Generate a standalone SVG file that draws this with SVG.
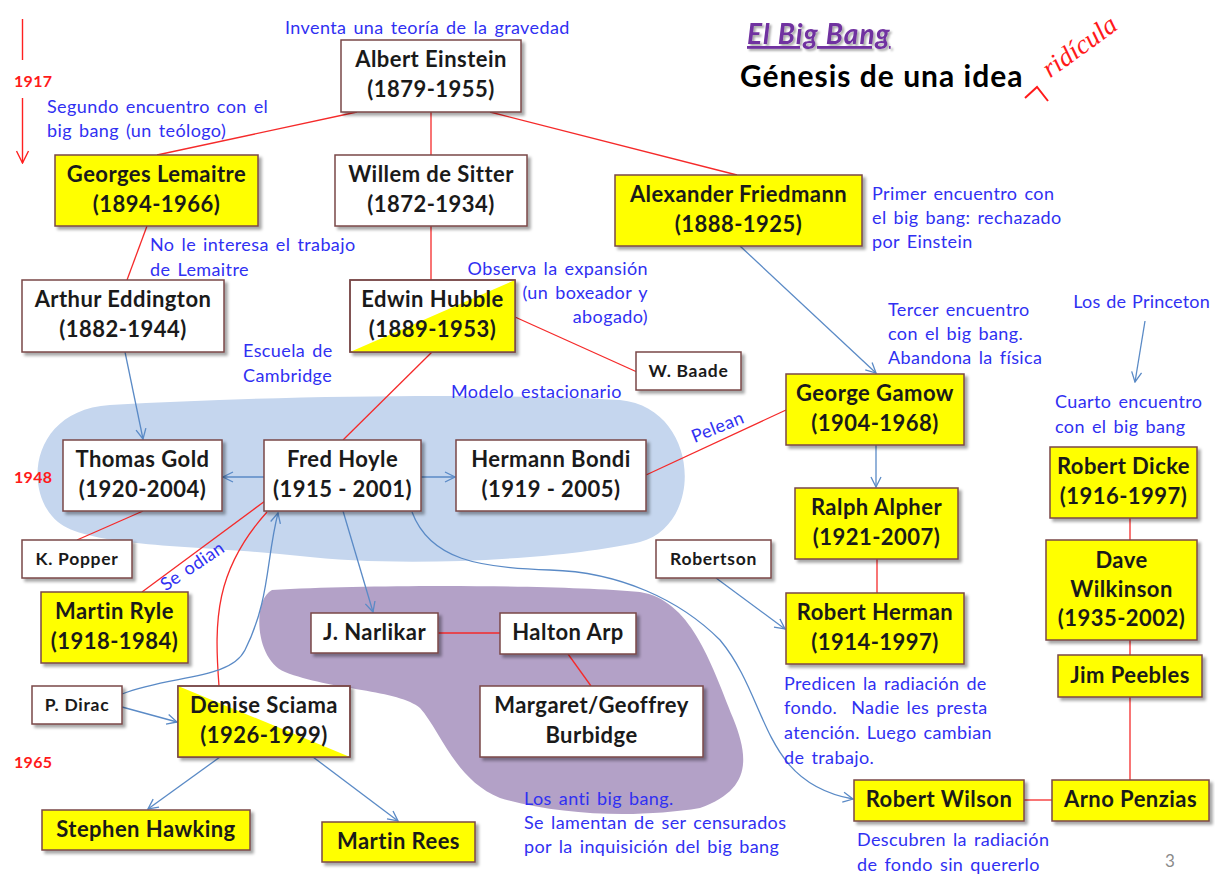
<svg xmlns="http://www.w3.org/2000/svg" width="1215" height="876" viewBox="0 0 1215 876">
<defs>
<filter id="sh" x="-10%" y="-10%" width="130%" height="140%">
<feDropShadow dx="3" dy="3" stdDeviation="1.8" flood-color="#000" flood-opacity="0.35"/>
</filter>
<filter id="tsh" x="-5%" y="-20%" width="115%" height="150%">
<feDropShadow dx="2" dy="2" stdDeviation="1.2" flood-color="#000" flood-opacity="0.35"/>
</filter>
<marker id="ab" viewBox="0 0 12 12" refX="11" refY="6" markerWidth="12" markerHeight="12" markerUnits="userSpaceOnUse" orient="auto">
<path d="M1,1 L11,6 L1,11" fill="none" stroke="#5a8ac6" stroke-width="1.3"/>
</marker>
<marker id="ar" viewBox="0 0 14 14" refX="13" refY="7" markerWidth="14" markerHeight="14" markerUnits="userSpaceOnUse" orient="auto">
<path d="M1,1 L13,7 L1,13" fill="none" stroke="#ff2020" stroke-width="1.4"/>
</marker>
</defs>
<style>
.box{stroke:#7a4848;stroke-width:1.5;filter:url(#sh)}
.w{fill:#fff}
.y{fill:#ffff00}
.n{font-family:Lato,"Liberation Sans",sans-serif;font-weight:bold;font-size:22px;letter-spacing:0.45px;fill:#1a1a1a;text-anchor:middle}
.s{font-family:Lato,"Liberation Sans",sans-serif;font-weight:bold;font-size:17.5px;letter-spacing:0.7px;fill:#1a1a1a;text-anchor:middle}
.a{font-family:Lato,"Liberation Sans",sans-serif;font-size:18px;letter-spacing:0.4px;word-spacing:2px;fill:#3030f2}
.yr{font-family:Lato,"Liberation Sans",sans-serif;font-weight:bold;font-size:16px;letter-spacing:0.3px;fill:#ff1a1a}
.rl{stroke:#f52a2a;stroke-width:1.3;fill:none}
.bl{stroke:#5a8ac6;stroke-width:1.3;fill:none;marker-end:url(#ab)}
</style>
<rect width="1215" height="876" fill="#fff"/>

<g id="blobs">
<path d="M110,405 C300,394 520,394 620,400 C700,408 705,525 640,542 C560,560 400,568 300,556 C200,545 90,548 58,522 C22,492 30,410 110,405 Z" fill="#c5d6ee"/>
<path d="M272,590 C380,584 560,585 640,592 C690,600 710,660 733,718 C750,760 750,790 700,808 C640,818 560,816 500,798 C455,780 440,730 420,708 C400,690 330,690 285,672 C255,660 252,600 272,590 Z" fill="#b3a1c7"/>
</g>

<g id="title">
<text x="747" y="44" font-family="Lato,'Liberation Sans',sans-serif" font-weight="bold" font-style="italic" font-size="28" letter-spacing="1" fill="#7030a0" text-decoration="underline" filter="url(#tsh)">El Big Bang</text>
<text x="740" y="87" font-family="Lato,'Liberation Sans',sans-serif" font-weight="bold" font-size="30" letter-spacing="1" fill="#000">Génesis de una idea</text>
<text x="1080" y="55" font-family="'Liberation Serif',serif" font-style="italic" font-size="27" fill="#ff1a1a" text-anchor="middle" transform="rotate(-36 1080 47)">ridícula</text>
<path d="M1025,98 L1037,87 L1048,101" fill="none" stroke="#ff1a1a" stroke-width="2"/>
</g>

<g id="timeline">
<line x1="22.5" y1="19" x2="22.5" y2="60" stroke="#ff2020" stroke-width="1.4"/>
<line x1="22.5" y1="98" x2="22.5" y2="163" stroke="#ff2020" stroke-width="1.4" marker-end="url(#ar)"/>
<text class="yr" x="14" y="87">1917</text>
<text class="yr" x="14" y="483">1948</text>
<text class="yr" x="14" y="768">1965</text>
</g>

<g id="connectors">
<line class="rl" x1="357" y1="112" x2="157" y2="155"/>
<line class="rl" x1="431" y1="112" x2="431" y2="155"/>
<line class="rl" x1="490" y1="112" x2="737" y2="175"/>
<line class="rl" x1="147" y1="226" x2="127" y2="280"/>
<line class="rl" x1="431" y1="226" x2="431" y2="280"/>
<line class="rl" x1="515" y1="317" x2="637" y2="372"/>
<line class="rl" x1="432" y1="352" x2="343" y2="440"/>
<line class="rl" x1="646" y1="475" x2="786" y2="410"/>
<line class="rl" x1="143" y1="511" x2="77" y2="540"/>
<line class="rl" x1="265" y1="501" x2="142" y2="592"/>
<path class="rl" d="M267,512 C215,570 214,620 219,686"/>
<line class="rl" x1="438" y1="633" x2="500" y2="633"/>
<line class="rl" x1="568" y1="654" x2="591" y2="686"/>
<line class="rl" x1="877" y1="559" x2="877" y2="593"/>
<line class="rl" x1="1130" y1="518" x2="1130" y2="540"/>
<line class="rl" x1="1130" y1="640" x2="1130" y2="655"/>
<line class="rl" x1="1130" y1="697" x2="1130" y2="780"/>
<line class="rl" x1="1024" y1="800" x2="1052" y2="800"/>

<line class="bl" x1="125" y1="352" x2="143" y2="439"/>
<line class="bl" x1="264" y1="477" x2="223" y2="477"/>
<line class="bl" x1="421" y1="477" x2="455" y2="477"/>
<line class="bl" x1="343" y1="511" x2="373" y2="612"/>
<path class="bl" d="M412,512 C430,560 480,568 550,570 C620,572 680,600 720,640 C770,700 760,782 853,799"/>
<path class="bl" d="M122,694 C170,675 230,680 245,650 C270,600 266,560 278,513"/>
<line class="bl" x1="122" y1="707" x2="177" y2="722"/>
<line class="bl" x1="220" y1="757" x2="148" y2="809"/>
<line class="bl" x1="313" y1="757" x2="398" y2="821"/>
<line class="bl" x1="740" y1="246" x2="876" y2="373"/>
<line class="bl" x1="876" y1="445" x2="876" y2="487"/>
<line class="bl" x1="716" y1="578" x2="785" y2="629"/>
<line class="bl" x1="1145" y1="321" x2="1135" y2="382"/>
</g>

<g id="einstein"><rect class="box w" x="341" y="40" width="180" height="72"/><text class="n" x="431" y="67">Albert Einstein</text><text class="n" x="431" y="97">(1879-1955)</text></g>
<g id="lemaitre"><rect class="box y" x="55" y="155" width="203" height="71"/><text class="n" x="156.5" y="182">Georges Lemaitre</text><text class="n" x="156.5" y="212">(1894-1966)</text></g>
<g id="desitter"><rect class="box w" x="335" y="155" width="192" height="71"/><text class="n" x="431" y="182">Willem de Sitter</text><text class="n" x="431" y="212">(1872-1934)</text></g>
<g id="friedmann"><rect class="box y" x="615" y="175" width="247" height="71"/><text class="n" x="738.5" y="202">Alexander Friedmann</text><text class="n" x="738.5" y="232">(1888-1925)</text></g>
<g id="eddington"><rect class="box w" x="22" y="280" width="202" height="72"/><text class="n" x="123" y="307">Arthur Eddington</text><text class="n" x="123" y="337">(1882-1944)</text></g>
<g id="hubble"><rect class="box w" x="350" y="280" width="165" height="72"/><polygon points="350,352 515,280 515,352" fill="#ffff00"/><rect x="350" y="280" width="165" height="72" fill="none" stroke="#7a4848" stroke-width="1.5"/><text class="n" x="432.5" y="307">Edwin Hubble</text><text class="n" x="432.5" y="337">(1889-1953)</text></g>
<g id="baade"><rect class="box w" x="636" y="352" width="105" height="38"/><text class="s" x="688.5" y="377">W. Baade</text></g>
<g id="gamow"><rect class="box y" x="786" y="374" width="178" height="71"/><text class="n" x="875" y="401">George Gamow</text><text class="n" x="875" y="431">(1904-1968)</text></g>
<g id="gold"><rect class="box w" x="63" y="440" width="159" height="71"/><text class="n" x="142.5" y="467">Thomas Gold</text><text class="n" x="142.5" y="497">(1920-2004)</text></g>
<g id="hoyle"><rect class="box w" x="264" y="440" width="157" height="71"/><text class="n" x="342.5" y="467">Fred Hoyle</text><text class="n" x="342.5" y="497">(1915 - 2001)</text></g>
<g id="bondi"><rect class="box w" x="456" y="440" width="190" height="71"/><text class="n" x="551" y="467">Hermann Bondi</text><text class="n" x="551" y="497">(1919 - 2005)</text></g>
<g id="popper"><rect class="box w" x="22" y="540" width="110" height="38"/><text class="s" x="77" y="565">K. Popper</text></g>
<g id="ryle"><rect class="box y" x="41" y="592" width="147" height="71"/><text class="n" x="114.5" y="619">Martin Ryle</text><text class="n" x="114.5" y="649">(1918-1984)</text></g>
<g id="robertson"><rect class="box w" x="656" y="540" width="115" height="38"/><text class="s" x="713.5" y="565">Robertson</text></g>
<g id="alpher"><rect class="box y" x="795" y="488" width="163" height="71"/><text class="n" x="876.5" y="515">Ralph Alpher</text><text class="n" x="876.5" y="545">(1921-2007)</text></g>
<g id="herman"><rect class="box y" x="786" y="593" width="178" height="71"/><text class="n" x="875" y="620">Robert Herman</text><text class="n" x="875" y="650">(1914-1997)</text></g>
<g id="dicke"><rect class="box y" x="1050" y="447" width="147" height="71"/><text class="n" x="1123.5" y="474">Robert Dicke</text><text class="n" x="1123.5" y="504">(1916-1997)</text></g>
<g id="wilkinson"><rect class="box y" x="1046" y="540" width="151" height="100"/><text class="n" x="1121.5" y="568">Dave</text><text class="n" x="1121.5" y="597">Wilkinson</text><text class="n" x="1121.5" y="626">(1935-2002)</text></g>
<g id="peebles"><rect class="box y" x="1058" y="655" width="144" height="42"/><text class="n" x="1130" y="683">Jim Peebles</text></g>
<g id="narlikar"><rect class="box w" x="311" y="613" width="127" height="40"/><text class="n" x="374.5" y="640">J. Narlikar</text></g>
<g id="arp"><rect class="box w" x="500" y="613" width="136" height="41"/><text class="n" x="568" y="640">Halton Arp</text></g>
<g id="burbidge"><rect class="box w" x="480" y="686" width="223" height="71"/><text class="n" x="591.5" y="713">Margaret/Geoffrey</text><text class="n" x="591.5" y="743">Burbidge</text></g>
<g id="dirac"><rect class="box w" x="32" y="686" width="90" height="38"/><text class="s" x="77" y="711">P. Dirac</text></g>
<g id="sciama"><rect class="box w" x="178" y="686" width="172" height="71"/><polygon points="178,686 350,757 178,757" fill="#ffff00"/><rect x="178" y="686" width="172" height="71" fill="none" stroke="#7a4848" stroke-width="1.5"/><text class="n" x="264" y="713">Denise Sciama</text><text class="n" x="264" y="743">(1926-1999)</text></g>
<g id="hawking"><rect class="box y" x="42" y="810" width="208" height="40"/><text class="n" x="146" y="837">Stephen Hawking</text></g>
<g id="rees"><rect class="box y" x="322" y="822" width="153" height="40"/><text class="n" x="398.5" y="849">Martin Rees</text></g>
<g id="wilson"><rect class="box y" x="854" y="780" width="170" height="41"/><text class="n" x="939" y="807">Robert Wilson</text></g>
<g id="penzias"><rect class="box y" x="1052" y="780" width="157" height="41"/><text class="n" x="1130.5" y="807">Arno Penzias</text></g>

<g id="annotations">
<text class="a" x="285" y="34">Inventa una teoría de la gravedad</text>
<text class="a" x="47" y="113">Segundo encuentro con el</text>
<text class="a" x="47" y="137">big bang (un teólogo)</text>
<text class="a" x="150" y="251">No le interesa el trabajo</text>
<text class="a" x="150" y="276">de Lemaitre</text>
<text class="a" x="648" y="275" text-anchor="end">Observa la expansión</text>
<text class="a" x="648" y="299" text-anchor="end">(un boxeador y</text>
<text class="a" x="648" y="323" text-anchor="end">abogado)</text>
<text class="a" x="243" y="357">Escuela de</text>
<text class="a" x="243" y="382">Cambridge</text>
<text class="a" x="451" y="398">Modelo estacionario</text>
<text class="a" x="718" y="433" text-anchor="middle" transform="rotate(-22 718 428)">Pelean</text>
<text class="a" x="872" y="200">Primer encuentro con</text>
<text class="a" x="872" y="224">el big bang: rechazado</text>
<text class="a" x="872" y="248">por Einstein</text>
<text class="a" x="888" y="316">Tercer encuentro</text>
<text class="a" x="888" y="340">con el big bang.</text>
<text class="a" x="888" y="364">Abandona la física</text>
<text class="a" x="1210" y="308" text-anchor="end" style="letter-spacing:0.2px;word-spacing:1px">Los de Princeton</text>
<text class="a" x="1055" y="408">Cuarto encuentro</text>
<text class="a" x="1055" y="433">con el big bang</text>
<text class="a" x="193" y="572" text-anchor="middle" transform="rotate(-34 193 567)">Se odian</text>
<text class="a" x="784" y="690">Predicen la radiación de</text>
<text class="a" x="784" y="714" style="white-space:pre">fondo.  Nadie les presta</text>
<text class="a" x="784" y="739">atención. Luego cambian</text>
<text class="a" x="784" y="764">de trabajo.</text>
<text class="a" x="524" y="805">Los anti big bang.</text>
<text class="a" x="524" y="829">Se lamentan de ser censurados</text>
<text class="a" x="524" y="853">por la inquisición del big bang</text>
<text class="a" x="857" y="846">Descubren la radiación</text>
<text class="a" x="857" y="871">de fondo sin quererlo</text>
<text x="1165" y="867" font-family="Lato,'Liberation Sans',sans-serif" font-size="17" fill="#8a8a8a">3</text>
</g>
</svg>
